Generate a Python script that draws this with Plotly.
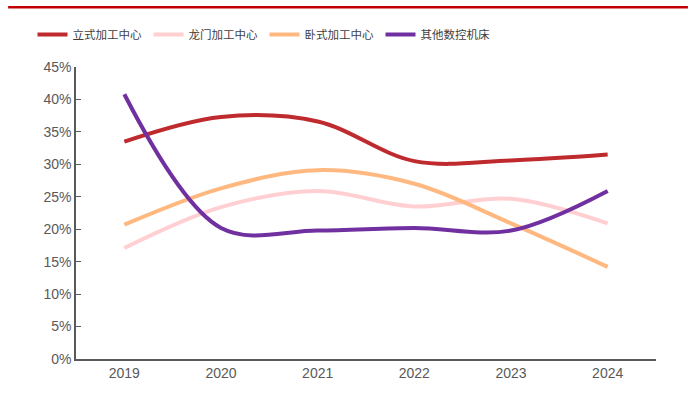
import plotly.graph_objects as go

years = ["2019", "2020", "2021", "2022", "2023", "2024"]
vertical = [33.5, 37.3, 36.6, 30.5, 30.6, 31.5]
gantry = [17.1, 23.4, 25.9, 23.5, 24.7, 20.9]
horizontal = [20.7, 26.3, 29.1, 27.0, 20.9, 14.2]
other_cnc = [40.8, 20.2, 19.8, 20.2, 19.8, 25.9]

series = [
    ("立式加工中心", vertical, "#BF2A2E"),
    ("龙门加工中心", gantry, "#FFCFD2"),
    ("卧式加工中心", horizontal, "#FFB880"),
    ("其他数控机床", other_cnc, "#7030A0"),
]

fig = go.Figure()
for name, vals, color in series:
    fig.add_trace(go.Scatter(
        x=years, y=vals, name=name, mode="lines",
        line=dict(color=color, width=4, shape="spline", smoothing=1.0),
    ))

fig.update_layout(
    width=698, height=401,
    margin=dict(l=76, r=42, t=67, b=42, autoexpand=False),
    paper_bgcolor="white", plot_bgcolor="white",
    font=dict(family="Liberation Sans, Arial", size=14, color="#595959"),
    showlegend=True,
    legend=dict(
        orientation="h", x=0.325, xanchor="center",
        y=1 - 20 / 401, yref="container", yanchor="top",
        bgcolor="rgba(0,0,0,0)",
        font=dict(family="Noto Sans CJK SC", size=11.5, color="#404040"),
        itemwidth=30, entrywidth=71, entrywidthmode="pixels",
    ),
    xaxis=dict(
        type="category", range=[-0.5, 5.5], showgrid=False,
        showline=True, linecolor="#595959", linewidth=1.5,
        ticks="", tickfont=dict(size=14, color="#595959"),
    ),
    yaxis=dict(
        range=[0, 45], dtick=5, ticksuffix="%", showgrid=False,
        showline=True, linecolor="#595959", linewidth=1.5,
        ticks="inside", ticklen=5, tickcolor="#595959",
        tickfont=dict(size=14, color="#595959"), zeroline=False,
    ),
    shapes=[dict(
        type="line", xref="paper", yref="paper",
        x0=-0.117, x1=1.055, y0=1.205, y1=1.205,
        line=dict(color="#C00000", width=2.5),
    )],
)

fig.write_html("out.html")
